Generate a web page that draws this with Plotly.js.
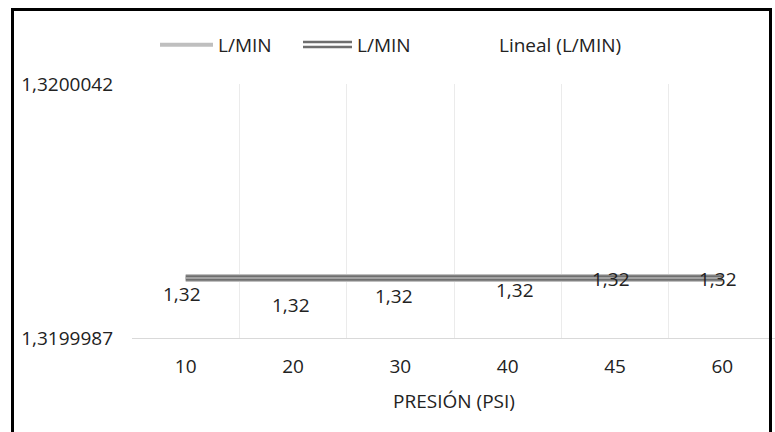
<!DOCTYPE html>
<html>
<head>
<meta charset="utf-8">
<script src="https://cdn.plot.ly/plotly-3.0.1.min.js"></script>
<style>
  html, body { margin: 0; padding: 0; width: 775px; height: 432px; overflow: hidden; background: #fff; }
  #wrap { position: relative; width: 775px; height: 432px; overflow: hidden; }
  #chart { position: absolute; left: 0; top: 0; }
  #frame { position: absolute; left: 11px; top: 8px; width: 755px; height: 500px; border: 3px solid #000; pointer-events: none; }
</style>
</head>
<body>
<div id="wrap">
  <div id="chart"></div>
  <div id="frame"></div>
</div>
<script>
// ---- data ----
var categories = ['10', '20', '30', '40', '45', '60'];
var lminA = [1.32, 1.32, 1.32, 1.32, 1.32, 1.32];
var lminB = [1.32, 1.32, 1.32, 1.32, 1.32, 1.32];
var dataLabels = ['1,32', '1,32', '1,32', '1,32', '1,32', '1,32'];
var yTickVals = [1.3199987, 1.3200042];
var yTickText = ['1,3199987', '1,3200042'];
var seriesNames = ['L/MIN', 'L/MIN', 'Lineal (L/MIN)'];
var xTitle = 'PRESIÓN (PSI)';

// ---- style / layout constants ----
var FONT = '"Open Sans", Lato, sans-serif';
var TXT = '#222222';
var FS = 19;
var W = 777, H = 432;
var M = {l: 132, r: 1, t: 84, b: 94};
var plotW = W - M.l - M.r, plotH = H - M.t - M.b;
function px(x) { return (x - M.l) / plotW; }
function py(y) { return (H - M.b - y) / plotH; }
function f() { return {family: FONT, size: FS, color: TXT, weight: 400}; }
// manual label nudges (pixels) as in the original chart
var labelShiftX = [-3.5, -2.5, -6.5, 7.5, -4.5, -4.5];
var labelShiftY = [-16, -27, -18.5, -12.5, -1, -1];

var traces = [
  {x: categories, y: lminA, type: 'scatter', mode: 'lines', name: seriesNames[0],
   line: {color: '#BFBFBF', width: 8}, showlegend: false, hoverinfo: 'skip'},
  {x: categories, y: lminB, type: 'scatter', mode: 'lines', name: seriesNames[1],
   line: {color: '#6E6E6E', width: 5.5}, showlegend: false, hoverinfo: 'skip'},
  {x: categories, y: lminB, type: 'scatter', mode: 'lines', name: seriesNames[1],
   line: {color: '#B5B5B5', width: 1.6}, showlegend: false, hoverinfo: 'skip'}
];

var annotations = categories.map(function (c, i) {
  return {x: i, y: lminB[i], xref: 'x', yref: 'y', text: dataLabels[i], showarrow: false,
          xanchor: 'center', yanchor: 'middle',
          xshift: labelShiftX[i], yshift: labelShiftY[i], font: f()};
});
// legend texts
annotations.push({xref: 'paper', yref: 'paper', x: px(216), y: py(45), xanchor: 'left', yanchor: 'middle',
  text: seriesNames[0], showarrow: false, font: f()});
annotations.push({xref: 'paper', yref: 'paper', x: px(355), y: py(45), xanchor: 'left', yanchor: 'middle',
  text: seriesNames[1], showarrow: false, font: f()});
annotations.push({xref: 'paper', yref: 'paper', x: px(497), y: py(45), xanchor: 'left', yanchor: 'middle',
  text: seriesNames[2], showarrow: false, font: f()});

var shapes = [
  {type: 'line', xref: 'paper', yref: 'paper', x0: px(160), x1: px(213), y0: py(44.7), y1: py(44.7),
   line: {color: '#BFBFBF', width: 4}},
  {type: 'line', xref: 'paper', yref: 'paper', x0: px(303), x1: px(352), y0: py(42), y1: py(42),
   line: {color: '#6E6E6E', width: 2.4}},
  {type: 'line', xref: 'paper', yref: 'paper', x0: px(303), x1: px(352), y0: py(47), y1: py(47),
   line: {color: '#6E6E6E', width: 2.4}}
];

var layout = {
  width: W, height: H,
  margin: M,
  paper_bgcolor: '#fff', plot_bgcolor: '#fff',
  showlegend: false,
  font: f(),
  xaxis: {
    type: 'category', range: [-0.5, 5.5], tickson: 'boundaries',
    showgrid: true, gridcolor: '#EBEBEB', gridwidth: 1,
    showline: true, linecolor: '#D9D9D9', linewidth: 1,
    ticks: '', ticklabelstandoff: 11,
    tickfont: f(),
    title: {text: xTitle, font: f(), standoff: 16},
    zeroline: false, fixedrange: true
  },
  yaxis: {
    range: [yTickVals[0], yTickVals[1]], tickmode: 'array', tickvals: yTickVals, ticktext: yTickText,
    showgrid: true, gridcolor: '#EBEBEB', gridwidth: 1,
    showline: false, zeroline: false, ticks: '', ticklabelstandoff: 18,
    tickfont: f(), fixedrange: true
  },
  annotations: annotations,
  shapes: shapes
};

Plotly.newPlot('chart', traces, layout, {staticPlot: true, displayModeBar: false});
</script>
</body>
</html>
